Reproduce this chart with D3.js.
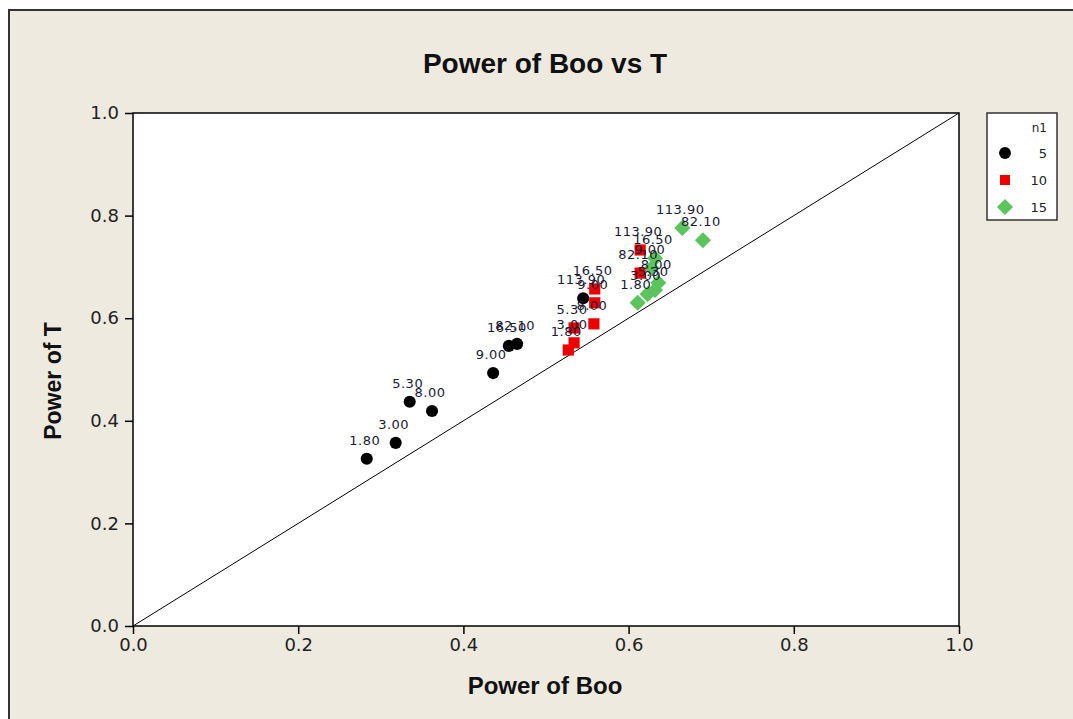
<!DOCTYPE html>
<html><head><meta charset="utf-8">
<script src="https://cdn.jsdelivr.net/npm/d3@7"></script>
<style>body{margin:0;background:#fff;}svg{display:block;}</style>
</head><body>
<script>
const labels = ["1.80","3.00","5.30","8.00","9.00","16.50","82.10","113.90"];
const boo5  = [0.283,0.318,0.335,0.362,0.436,0.455,0.465,0.545];
const t5    = [0.326,0.357,0.437,0.419,0.493,0.546,0.550,0.639];
const boo10 = [0.527,0.534,0.534,0.558,0.559,0.559,0.614,0.614];
const t10   = [0.538,0.552,0.581,0.589,0.630,0.657,0.688,0.733];
const boo15 = [0.611,0.623,0.632,0.636,0.628,0.632,0.690,0.665];
const t15   = [0.630,0.647,0.655,0.669,0.698,0.717,0.752,0.776];
const groups = ["5","10","15"];
const colors = ["#000000","#ee0000","#5cc45c"];
const ticks = [0,0.2,0.4,0.6,0.8,1.0];

const W=1073,H=719;
const svg=d3.select("body").append("svg").attr("width",W).attr("height",H);
svg.append("rect").attr("x",9).attr("y",10).attr("width",W).attr("height",H).attr("fill","#eeeae0").attr("stroke","#333").attr("stroke-width",2);

const L=133,R=959,T=113,B=626;
const x=d3.scaleLinear().domain([0,1]).range([L,R]);
const y=d3.scaleLinear().domain([0,1]).range([B,T]);

svg.append("rect").attr("x",L).attr("y",T).attr("width",R-L).attr("height",B-T).attr("fill","#fff").attr("stroke","#000").attr("stroke-width",1.5);

const fmt=d3.format(".1f");
const xa=svg.append("g").attr("transform",`translate(0,${B})`).call(d3.axisBottom(x).tickValues(ticks).tickFormat(fmt).tickSize(8).tickPadding(4));
const ya=svg.append("g").attr("transform",`translate(${L},0)`).call(d3.axisLeft(y).tickValues(ticks).tickFormat(fmt).tickSize(8).tickPadding(6));
[xa,ya].forEach(a=>{a.select(".domain").remove();a.selectAll("line").attr("stroke","#000").attr("stroke-width",1.5);
 a.selectAll("text").attr("font-family","DejaVu Sans").attr("font-size",18).attr("fill","#222");});

// diagonal
svg.append("line").attr("x1",x(0)).attr("y1",y(0)).attr("x2",x(1)).attr("y2",y(1)).attr("stroke","#000").attr("stroke-width",1);

function marker(gi, s){
  if(gi===0) return d3.symbol().type(d3.symbolCircle).size(s)();
  if(gi===1) return d3.symbol().type(d3.symbolSquare).size(s)();
  const r=Math.sqrt(s*2)/2; return `M0,${-r}L${r},0L0,${r}L${-r},0Z`;
}

const series=[[boo5,t5],[boo10,t10],[boo15,t15]];
series.forEach((s,gi)=>{
  const pts=s[0].map((v,i)=>({bx:v,ty:s[1][i],lab:labels[i]}));
  svg.append("g").selectAll("path").data(pts).join("path")
   .attr("d",marker(gi,gi===0?115:(gi===1?125:130)))
   .attr("transform",d=>`translate(${x(d.bx)},${y(d.ty)})`).attr("fill",colors[gi]);
});
series.forEach((s,gi)=>{
  const pts=s[0].map((v,i)=>({bx:v,ty:s[1][i],lab:labels[i]}));
  svg.append("g").selectAll("text").data(pts).join("text")
   .attr("x",d=>x(d.bx)-2).attr("y",d=>y(d.ty)-14).attr("text-anchor","middle")
   .attr("font-family","DejaVu Sans").attr("font-size",13).attr("letter-spacing",0.5).attr("fill","#1a1a33").text(d=>d.lab);
});

// titles
svg.append("text").attr("x",545).attr("y",73).attr("text-anchor","middle").attr("font-family","Liberation Sans").attr("font-weight","bold").attr("font-size",28).attr("fill","#111").text("Power of Boo vs T");
svg.append("text").attr("x",545).attr("y",694).attr("text-anchor","middle").attr("font-family","Liberation Sans").attr("font-weight","bold").attr("font-size",24).attr("fill","#111").text("Power of Boo");
svg.append("text").attr("transform","translate(61,381) rotate(-90)").attr("text-anchor","middle").attr("font-family","Liberation Sans").attr("font-weight","bold").attr("font-size",23).attr("fill","#111").text("Power of T");

// legend
const lg=svg.append("g");
lg.append("rect").attr("x",987).attr("y",113).attr("width",70).attr("height",107).attr("fill","#fff").attr("stroke","#333").attr("stroke-width",1.5);
lg.append("text").attr("x",1047).attr("y",132).attr("text-anchor","end").attr("font-family","DejaVu Sans").attr("font-size",12).attr("fill","#222").text("n1");
groups.forEach((gname,i)=>{
  const yy=153+i*27;
  lg.append("path").attr("d",marker(i,i===0?110:(i===1?100:130))).attr("transform",`translate(1005,${yy})`).attr("fill",colors[i]);
  lg.append("text").attr("x",1047).attr("y",yy+5).attr("text-anchor","end").attr("font-family","DejaVu Sans").attr("font-size",13).attr("fill","#222").text(gname);
});
</script>
</body></html>
